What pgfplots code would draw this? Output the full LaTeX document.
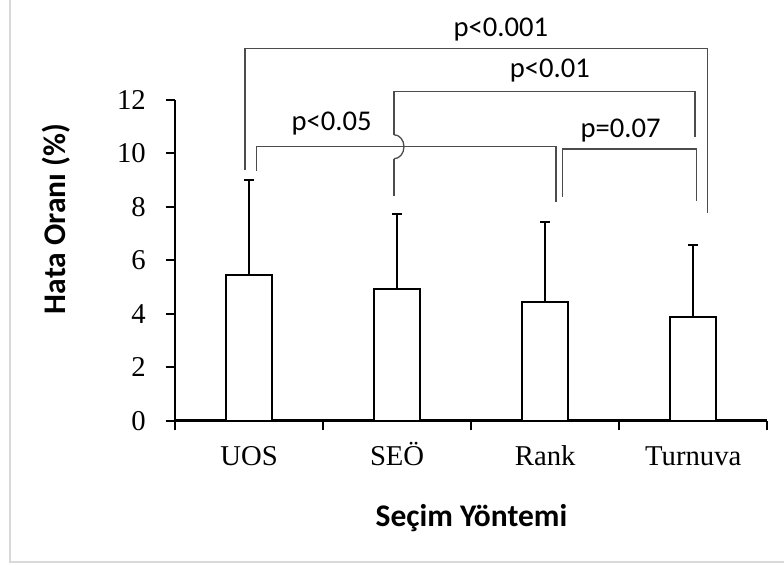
\documentclass[border=0pt]{standalone}
\usepackage{fontspec}
\setmainfont{Liberation Serif}
\newfontfamily\calibri{Carlito}
\usepackage{pgfplots}
\pgfplotsset{compat=1.18}

\begin{document}
\begin{tikzpicture}
\useasboundingbox (0pt,0pt) rectangle (784pt,565pt);
% outer frame
\draw[line width=2pt, black!15] (9.5pt,3.3pt) rectangle (800pt,565.5pt);
\begin{axis}[
  at={(175pt,144.3pt)}, anchor=south west,
  scale only axis, width=592.3pt, height=320.7pt,
  xmin=-0.5, xmax=3.5, ymin=0, ymax=12,
  axis x line*=bottom, axis y line*=left,
  axis line style={line width=2.5pt, black},
  clip=false,
  xtick={-0.5,0.5,1.5,2.5,3.5}, xticklabels={},
  extra x ticks={0,1,2,3},
  extra x tick labels={UOS,SEÖ,Rank,Turnuva},
  extra x tick style={major tick length=0pt},
  ytick={0,2,...,12},
  tick align=outside,
  major tick length=9pt,
  tick style={line width=2pt, black},
  /pgf/number format/assume math mode=true,
  ticklabel style={font=\fontsize{28.7}{34}\selectfont},
  yticklabel style={anchor=east, inner sep=0pt, xshift=-20pt},
  xticklabel style={anchor=base, inner sep=0pt, yshift=-45pt},
  xlabel={Seçim Yöntemi},
  xlabel style={at={(axis description cs:0.5006,-0.33)}, anchor=base,
    font=\calibri\bfseries\fontsize{31.5}{38}\selectfont},
  ylabel={Hata Oranı (\%)},
  ylabel style={at={(axis description cs:-0.1857,0.629)}, anchor=base,
    font=\calibri\bfseries\fontsize{31.5}{38}\selectfont},
]
\addplot[ybar, bar width=46pt, fill=white, draw=black, line width=2pt,
  error bars/.cd, y dir=plus, y explicit,
  error bar style={line width=2pt, black},
  error mark options={rotate=90, mark size=5pt, line width=2pt, black}]
  coordinates {
    (0,5.45) +- (0,3.55)
    (1,4.92) +- (0,2.81)
    (2,4.44) +- (0,3.01)
    (3,3.89) +- (0,2.70)
  };

% significance brackets
\begin{scope}[line width=1.3pt, black!70]
\draw (axis cs:-0.027,9.38) |- (axis cs:3.097,13.93) -- (axis cs:3.097,7.78);
\draw (axis cs:0.979,10.70) -- (axis cs:0.979,12.31) -| (axis cs:3.011,10.63);
\draw (axis cs:0.979,8.41) -- (axis cs:0.979,9.80);
\draw (axis cs:0.979,10.70) arc[start angle=90, end angle=-90, x radius=10pt, y radius=12pt];
\draw (axis cs:0.052,9.35) |- (axis cs:2.073,10.25) -- (axis cs:2.073,8.19);
\draw (axis cs:2.118,8.38) |- (axis cs:3.023,10.17) -- (axis cs:3.023,8.23);
\end{scope}
\begin{scope}[every node/.style={anchor=base, inner sep=0pt,
    font=\calibri\fontsize{28.6}{34}\selectfont}]
\node at (axis cs:1.701,14.37) {p<0.001};
\node at (axis cs:2.032,12.85) {p<0.01};
\node at (axis cs:0.558,10.85) {p<0.05};
\node at (axis cs:2.510,10.60) {p=0.07};
\end{scope}
\end{axis}
\end{tikzpicture}
\end{document}
